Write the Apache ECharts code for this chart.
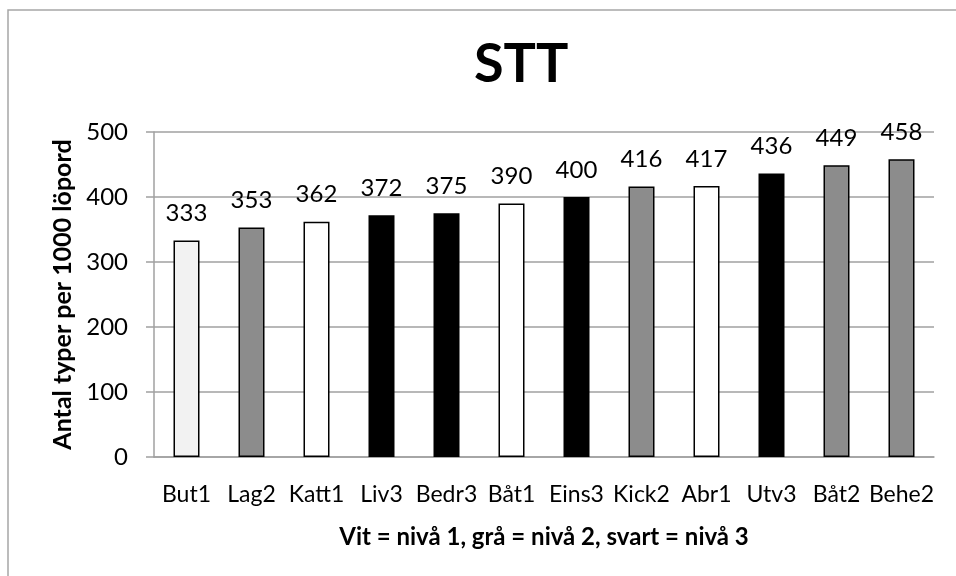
<!DOCTYPE html>
<html>
<head>
<meta charset="utf-8">
<script src="https://cdn.jsdelivr.net/npm/echarts@6/dist/echarts.min.js"></script>
<style>
  html, body { margin: 0; padding: 0; background: #fff; }
  #chart { width: 956px; height: 576px; }
</style>
</head>
<body>
<div id="chart"></div>
<script>
// Texts per category (types per 1000 running words)
const categories = ['But1', 'Lag2', 'Katt1', 'Liv3', 'Bedr3', 'Båt1', 'Eins3', 'Kick2', 'Abr1', 'Utv3', 'Båt2', 'Behe2'];
const values = [333, 353, 362, 372, 375, 390, 400, 416, 417, 436, 449, 458];
// Difficulty level of each text: 1 = white, 2 = grey, 3 = black
const levels = [1, 2, 1, 3, 3, 1, 3, 2, 1, 3, 2, 2];
const yTicks = [0, 100, 200, 300, 400, 500];

const levelFill = { 1: '#ffffff', 2: '#8c8c8c', 3: '#000000' };
const firstFill = '#f2f2f2';
const fontFamily = 'Lato, "Open Sans", sans-serif';

const chart = echarts.init(document.getElementById('chart'));

const barData = values.map((v, i) => ({
  value: v,
  itemStyle: { color: i === 0 ? firstFill : levelFill[levels[i]] }
}));

chart.setOption({
  animation: false,
  backgroundColor: '#fff',
  graphic: [{
    type: 'rect',
    shape: { x: 8, y: 10, width: 960, height: 580 },
    style: { fill: 'none', stroke: '#a6a6a6', lineWidth: 1.5 },
    silent: true
  }, {
    type: 'text',
    left: 474,
    top: 38,
    style: { text: 'STT', font: 'bold 54px ' + fontFamily, fill: '#000', letterSpacing: 2 },
    silent: true
  }],
  grid: { left: 154, right: 22, top: 132, bottom: 119 },
  xAxis: {
    type: 'category',
    data: categories,
    name: 'Vit = nivå 1, grå = nivå 2, svart = nivå 3',
    nameLocation: 'middle',
    nameGap: 68,
    nameTextStyle: { fontFamily: fontFamily, fontWeight: 'bold', fontSize: 24, color: '#000' },
    axisLine: { lineStyle: { color: '#a0a0a0', width: 1.5 } },
    axisTick: { show: false },
    axisLabel: { fontFamily: fontFamily, fontSize: 23, color: '#000', margin: 26, interval: 0 }
  },
  yAxis: {
    type: 'value',
    min: yTicks[0],
    max: yTicks[yTicks.length - 1],
    interval: yTicks[1] - yTicks[0],
    name: 'Antal typer per 1000 löpord',
    nameLocation: 'middle',
    nameGap: 76,
    nameTextStyle: { fontFamily: fontFamily, fontWeight: 'bold', fontSize: 25, color: '#000' },
    axisLine: { show: true, lineStyle: { color: '#a0a0a0', width: 1.5 } },
    axisTick: { show: true, length: 8, lineStyle: { color: '#a0a0a0', width: 1.5 } },
    axisLabel: { fontFamily: fontFamily, fontSize: 24, color: '#000', margin: 26 },
    splitLine: { lineStyle: { color: '#a0a0a0', width: 1.5 } }
  },
  series: [{
    type: 'bar',
    data: barData,
    barWidth: 26,
    itemStyle: { borderColor: '#000', borderWidth: 1.5 },
    label: {
      show: true,
      position: 'top',
      distance: 15,
      fontFamily: fontFamily,
      fontSize: 24,
      color: '#000'
    }
  }]
});
</script>
</body>
</html>
